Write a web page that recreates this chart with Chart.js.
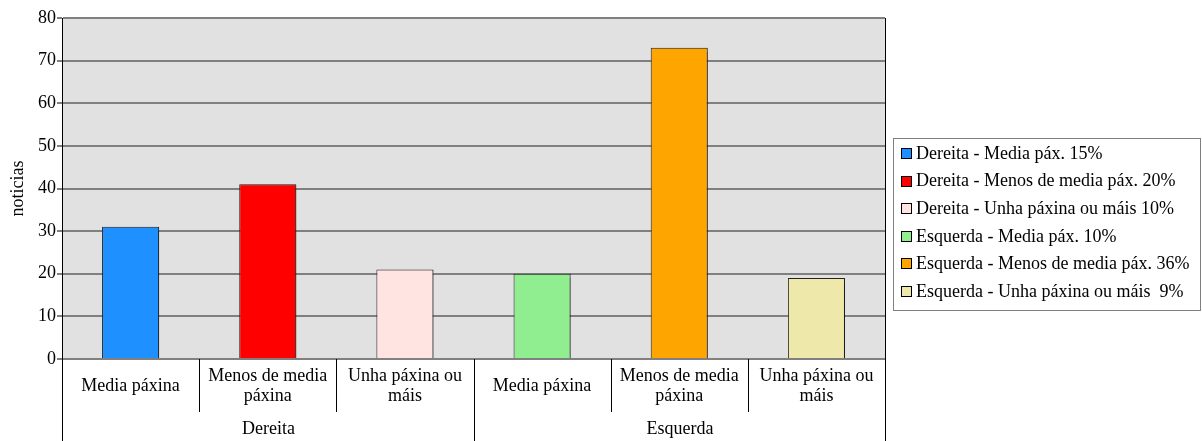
<!DOCTYPE html>
<html>
<head>
<meta charset="utf-8">
<script src="https://cdn.jsdelivr.net/npm/chart.js@4"></script>
<style>
html,body{margin:0;padding:0;background:#fff;}
#wrap{width:1202px;height:441px;}
</style>
</head>
<body>
<div id="wrap"><canvas id="c" width="1202" height="441"></canvas></div>
<script>
const categories = [["Media páxina"], ["Menos de media", "páxina"], ["Unha páxina ou", "máis"], ["Media páxina"], ["Menos de media", "páxina"], ["Unha páxina ou", "máis"]];
const groups = ["Dereita", "Esquerda"];
const groupSizes = [3, 3];
const values = [31, 41, 21, 20, 73, 19];
const barColors = ["#1e90ff", "#ff0000", "#ffe4e1", "#90ee90", "#ffa500", "#eee8aa"];
const legendLabels = ["Dereita - Media páx. 15%", "Dereita - Menos de media páx. 20%", "Dereita - Unha páxina ou máis 10%", "Esquerda - Media páx. 10%", "Esquerda - Menos de media páx. 36%", "Esquerda - Unha páxina ou máis  9%"];
const yTicks = [0, 10, 20, 30, 40, 50, 60, 70, 80];

const FONT = "'Liberation Serif', 'Times New Roman', serif";
const FS = 18;

const decor = {
  id: 'decor',
  beforeDraw(chart) {
    const a = chart.chartArea, ctx = chart.ctx;
    ctx.save();
    ctx.fillStyle = '#e1e1e1';
    ctx.fillRect(a.left, a.top, a.right - a.left, a.bottom - a.top);
    ctx.restore();
  },
  beforeDatasetsDraw(chart) {
    const ctx = chart.ctx;
    ctx.save();
    ctx.shadowColor = 'rgba(0,0,0,0.35)';
    ctx.shadowOffsetX = 2;
    ctx.shadowOffsetY = 1;
    ctx.shadowBlur = 1;
  },
  afterDatasetsDraw(chart) {
    chart.ctx.restore();
  },
  afterDraw(chart) {
    const a = chart.chartArea, ctx = chart.ctx, xs = chart.scales.x;
    ctx.save();
    ctx.strokeStyle = '#000';
    ctx.lineWidth = 1;
    ctx.beginPath();
    ctx.moveTo(Math.round(a.right) + 0.5, a.top);
    ctx.lineTo(Math.round(a.right) + 0.5, a.bottom);
    ctx.stroke();
    ctx.fillStyle = '#000';
    ctx.font = FS + 'px ' + FONT;
    ctx.textAlign = 'center';
    ctx.textBaseline = 'middle';
    const n = categories.length;
    const centerY = a.bottom + 27;
    categories.forEach((lines, i) => {
      const x = xs.getPixelForValue(i);
      const lh = 20;
      const y0 = centerY - (lines.length - 1) * lh / 2;
      lines.forEach((t, k) => ctx.fillText(t, x, y0 + k * lh));
    });
    const bounds = [];
    for (let i = 0; i <= n; i++) {
      let b;
      if (i === 0) b = a.left;
      else if (i === n) b = a.right;
      else b = (xs.getPixelForValue(i - 1) + xs.getPixelForValue(i)) / 2;
      bounds.push(Math.round(b) + 0.5);
    }
    const groupEdges = [0];
    groupSizes.reduce((s, g) => { groupEdges.push(s + g); return s + g; }, 0);
    ctx.strokeStyle = '#000';
    ctx.lineWidth = 1;
    bounds.forEach((b, i) => {
      const isGroup = groupEdges.includes(i);
      ctx.beginPath();
      ctx.moveTo(b, a.bottom);
      ctx.lineTo(b, isGroup ? chart.height : a.bottom + 53);
      ctx.stroke();
    });
    groups.forEach((g, gi) => {
      const x = (bounds[groupEdges[gi]] + bounds[groupEdges[gi + 1]]) / 2;
      ctx.fillText(g, x, a.bottom + 70);
    });
    const lx = 893.5, ly = 138.5, lw = 307, lh2 = 172;
    ctx.strokeStyle = '#808080';
    ctx.strokeRect(lx, ly, lw, lh2);
    ctx.textAlign = 'left';
    legendLabels.forEach((t, i) => {
      const cy = 154 + i * 27.6;
      ctx.fillStyle = barColors[i];
      ctx.fillRect(901, Math.round(cy - 6), 11, 11);
      ctx.strokeStyle = '#000';
      ctx.strokeRect(901.5, Math.round(cy - 6) + 0.5, 10, 10);
      ctx.fillStyle = '#000';
      ctx.fillText(t, 916, cy);
    });
    ctx.restore();
  }
};

new Chart(document.getElementById('c'), {
  type: 'bar',
  data: {
    labels: categories.map(c => c.join(' ')),
    datasets: [{
      data: values,
      backgroundColor: barColors,
      borderColor: '#222',
      borderWidth: 1,
      barPercentage: 0.416,
      categoryPercentage: 1
    }]
  },
  options: {
    responsive: false,
    animation: false,
    layout: { padding: { top: 18, right: 317, bottom: 0, left: 0 } },
    plugins: { legend: { display: false }, tooltip: { enabled: false } },
    scales: {
      x: {
        grid: { display: false, drawTicks: false },
        border: { display: true, color: '#808080', width: 2 },
        ticks: { display: false },
        afterFit(s) { s.height = 82; }
      },
      y: {
        min: 0, max: 80,
        afterBuildTicks(s) { s.ticks = yTicks.map(v => ({ value: v })); },
        ticks: { color: '#000', font: { family: FONT, size: FS }, padding: 1 },
        grid: { color: '#808080', lineWidth: 2, tickLength: 5, drawTicks: true },
        border: { display: true, color: '#000', width: 1 },
        title: { display: true, text: 'noticias', color: '#000', font: { family: FONT, size: FS }, padding: { top: 7, bottom: 0 } },
        afterFit(s) { s.width = 62; }
      }
    }
  },
  plugins: [decor]
});
</script>
</body>
</html>
